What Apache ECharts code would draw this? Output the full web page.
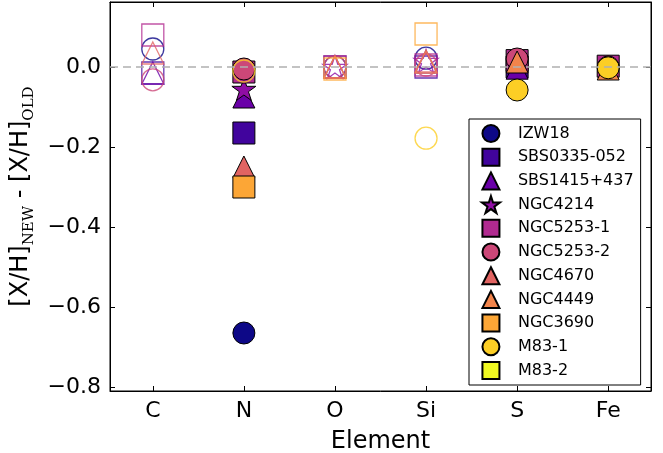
<!DOCTYPE html>
<html>
<head>
<meta charset="utf-8">
<script src="https://cdn.jsdelivr.net/npm/echarts@6/dist/echarts.min.js"></script>
<style>
  html, body { margin: 0; padding: 0; background: #fff; }
  #chart { width: 663px; height: 453px; }
</style>
</head>
<body>
<div id="chart"></div>
<script>
// Elements on the x axis
const elements = ['C', 'N', 'O', 'Si', 'S', 'Fe'];

// [X/H]_NEW - [X/H]_OLD per element (null = no measurement)
const galaxies = ['IZW18', 'SBS0335-052', 'SBS1415+437', 'NGC4214', 'NGC5253-1',
                  'NGC5253-2', 'NGC4670', 'NGC4449', 'NGC3690', 'M83-1', 'M83-2'];
const izw18      = [0.045, -0.665, 0.0,   0.022,  null,    null];
const sbs0335    = [-0.015, -0.165, 0.0,  0.0,    0.0,     null];
const sbs1415    = [-0.015, -0.075, 0.0,  0.012, -0.003,   null];
const ngc4214    = [null,  -0.055, 0.0,   0.015,  null,    null];
const ngc5253_1  = [0.08,  -0.0125, 0.0,  0.005,  0.016,   0.002];
const ngc5253_2  = [-0.032, -0.005, 0.0,  0.005,  0.02,    0.0];
const ngc4670    = [0.035, -0.25,  0.0,   0.015,  null,    null];
const ngc4449    = [null,   null,  0.0,   0.012,  0.0125, -0.005];
const ngc3690    = [null,  -0.30, -0.005, 0.0825, null,    null];
const m83_1      = [null,  -0.01,  null, -0.178, -0.0575, -0.002];
const m83_2      = [null,   null,  null,  null,   null,    null];
const values = [izw18, sbs0335, sbs1415, ngc4214, ngc5253_1, ngc5253_2,
                ngc4670, ngc4449, ngc3690, m83_1, m83_2];

// Measurements drawn as hollow markers
const hollow = {
  'IZW18': ['C', 'O', 'Si'],
  'SBS0335-052': ['C', 'O', 'Si'],
  'SBS1415+437': ['C', 'O', 'Si'],
  'NGC4214': ['O', 'Si'],
  'NGC5253-1': ['C', 'O', 'Si'],
  'NGC5253-2': ['C', 'O', 'Si'],
  'NGC4670': ['C', 'O', 'Si'],
  'NGC4449': ['O', 'Si'],
  'NGC3690': ['O', 'Si'],
  'M83-1': ['N', 'Si'],
  'M83-2': []
};

// Tick positions
const yTicks = [-0.8, -0.6, -0.4, -0.2, 0.0];
const xTicks = [0, 1, 2, 3, 4, 5];

// plasma colour steps, one per galaxy
const colours = ['#0d0887', '#41049d', '#6a00a8', '#8f0da4', '#b12a90', '#cc4778',
                 '#e16462', '#f2844b', '#fca636', '#fcce25', '#f0f921'];
// marker shapes as paths so they keep their aspect in the legend too
const STAR = 'path://M0,-10 L2.245,-3.09 L9.511,-3.09 L3.633,1.18 L5.878,8.09 L0,3.82 L-5.878,8.09 L-3.633,1.18 L-9.511,-3.09 L-2.245,-3.09 Z';
const SQUARE = 'path://M0,0 L10,0 L10,10 L0,10 Z';
const TRI = 'path://M5,0 L10,10 L0,10 Z';
const symbols = ['circle', SQUARE, TRI, STAR, SQUARE, 'circle',
                 TRI, TRI, SQUARE, 'circle', SQUARE];

const series = [{
  // dashed zero reference line
  type: 'line', name: '_zero', data: [], silent: true,
  markLine: {
    silent: true, symbol: 'none', animation: false,
    label: { show: false },
    lineStyle: { type: [8, 5], color: '#b0b0b0', width: 1.6 },
    data: [{ yAxis: 0 }]
  }
}];

galaxies.forEach((g, k) => {
  const data = [];
  values[k].forEach((v, i) => {
    if (v === null) return;
    const open = hollow[g].indexOf(elements[i]) >= 0;
    data.push(open ? {
      value: [i, v],
      itemStyle: { color: 'rgba(0,0,0,0)', borderColor: colours[k], borderWidth: 1.3, opacity: 0.8 }
    } : { value: [i, v] });
  });
  series.push({
    type: 'scatter', name: g, data: data,
    symbol: symbols[k], symbolSize: symbols[k] === STAR ? 24 : 22,
    symbolKeepAspect: true,
    itemStyle: { color: colours[k], borderColor: '#000', borderWidth: 1, opacity: 1 },
    emphasis: { disabled: true }
  });
});

const chart = echarts.init(document.getElementById('chart'), null, { renderer: 'canvas' });
const tickFont = { fontFamily: 'DejaVu Sans', fontSize: 22, color: '#000' };
chart.setOption({
  animation: false,
  backgroundColor: '#fff',
  grid: {
    left: 110, right: 12, top: 2, bottom: 62,
    containLabel: false, outerBoundsMode: 'none',
    show: true, borderColor: '#000', borderWidth: 1
  },
  xAxis: [{
    type: 'value', min: -0.47, max: 5.47, position: 'bottom',
    name: 'Element', nameLocation: 'middle', nameGap: 39,
    nameTextStyle: { fontFamily: 'DejaVu Sans', fontSize: 24, color: '#000' },
    axisLine: { show: true, onZero: false, lineStyle: { color: '#000', width: 1 } },
    axisTick: { show: true, inside: true, length: 5, customValues: xTicks, lineStyle: { color: '#000' } },
    axisLabel: Object.assign({ margin: 9, customValues: xTicks, formatter: v => elements[Math.round(v)] }, tickFont),
    splitLine: { show: false }
  }, {
    type: 'value', min: -0.47, max: 5.47, position: 'top',
    axisLine: { show: true, onZero: false, lineStyle: { color: '#000', width: 1 } },
    axisTick: { show: true, inside: true, length: 5, customValues: xTicks, lineStyle: { color: '#000' } },
    axisLabel: { show: false }, splitLine: { show: false }
  }],
  yAxis: [{
    type: 'value', min: -0.81, max: 0.1625, position: 'left',
    name: '{b|[X/H]}{s|NEW}{b| - [X/H]}{s|OLD}',
    nameLocation: 'middle', nameGap: 52, nameRotate: 90,
    nameTextStyle: {
      color: '#000',
      rich: {
        b: { fontFamily: 'DejaVu Sans', fontSize: 24, color: '#000', padding: [0, 0, 4, 0], verticalAlign: 'bottom' },
        s: { fontFamily: 'DejaVu Serif', fontSize: 15, color: '#000', verticalAlign: 'bottom' }
      }
    },
    axisLine: { show: true, onZero: false, lineStyle: { color: '#000', width: 1 } },
    axisTick: { show: true, inside: true, length: 5, customValues: yTicks, lineStyle: { color: '#000' } },
    axisLabel: Object.assign({
      margin: 9, customValues: yTicks,
      formatter: v => (v < -1e-9 ? '\u2212' : '') + Math.abs(v).toFixed(1)
    }, tickFont),
    splitLine: { show: false }
  }, {
    type: 'value', min: -0.81, max: 0.1625, position: 'right',
    axisLine: { show: true, onZero: false, lineStyle: { color: '#000', width: 1 } },
    axisTick: { show: true, inside: true, length: 5, customValues: yTicks, lineStyle: { color: '#000' } },
    axisLabel: { show: false }, splitLine: { show: false }
  }],
  legend: {
    data: galaxies, orient: 'vertical', left: 469, top: 119,
    padding: [5, 7, 5, 12],
    itemWidth: 44, itemHeight: 17, itemGap: 4.7,
    symbolKeepAspect: true,
    backgroundColor: '#fff', borderColor: '#000', borderWidth: 1, borderRadius: 0,
    textStyle: { fontFamily: 'DejaVu Sans', fontSize: 16, lineHeight: 18, color: '#000' },
    selectedMode: false
  },
  series: series
});
</script>
</body>
</html>
